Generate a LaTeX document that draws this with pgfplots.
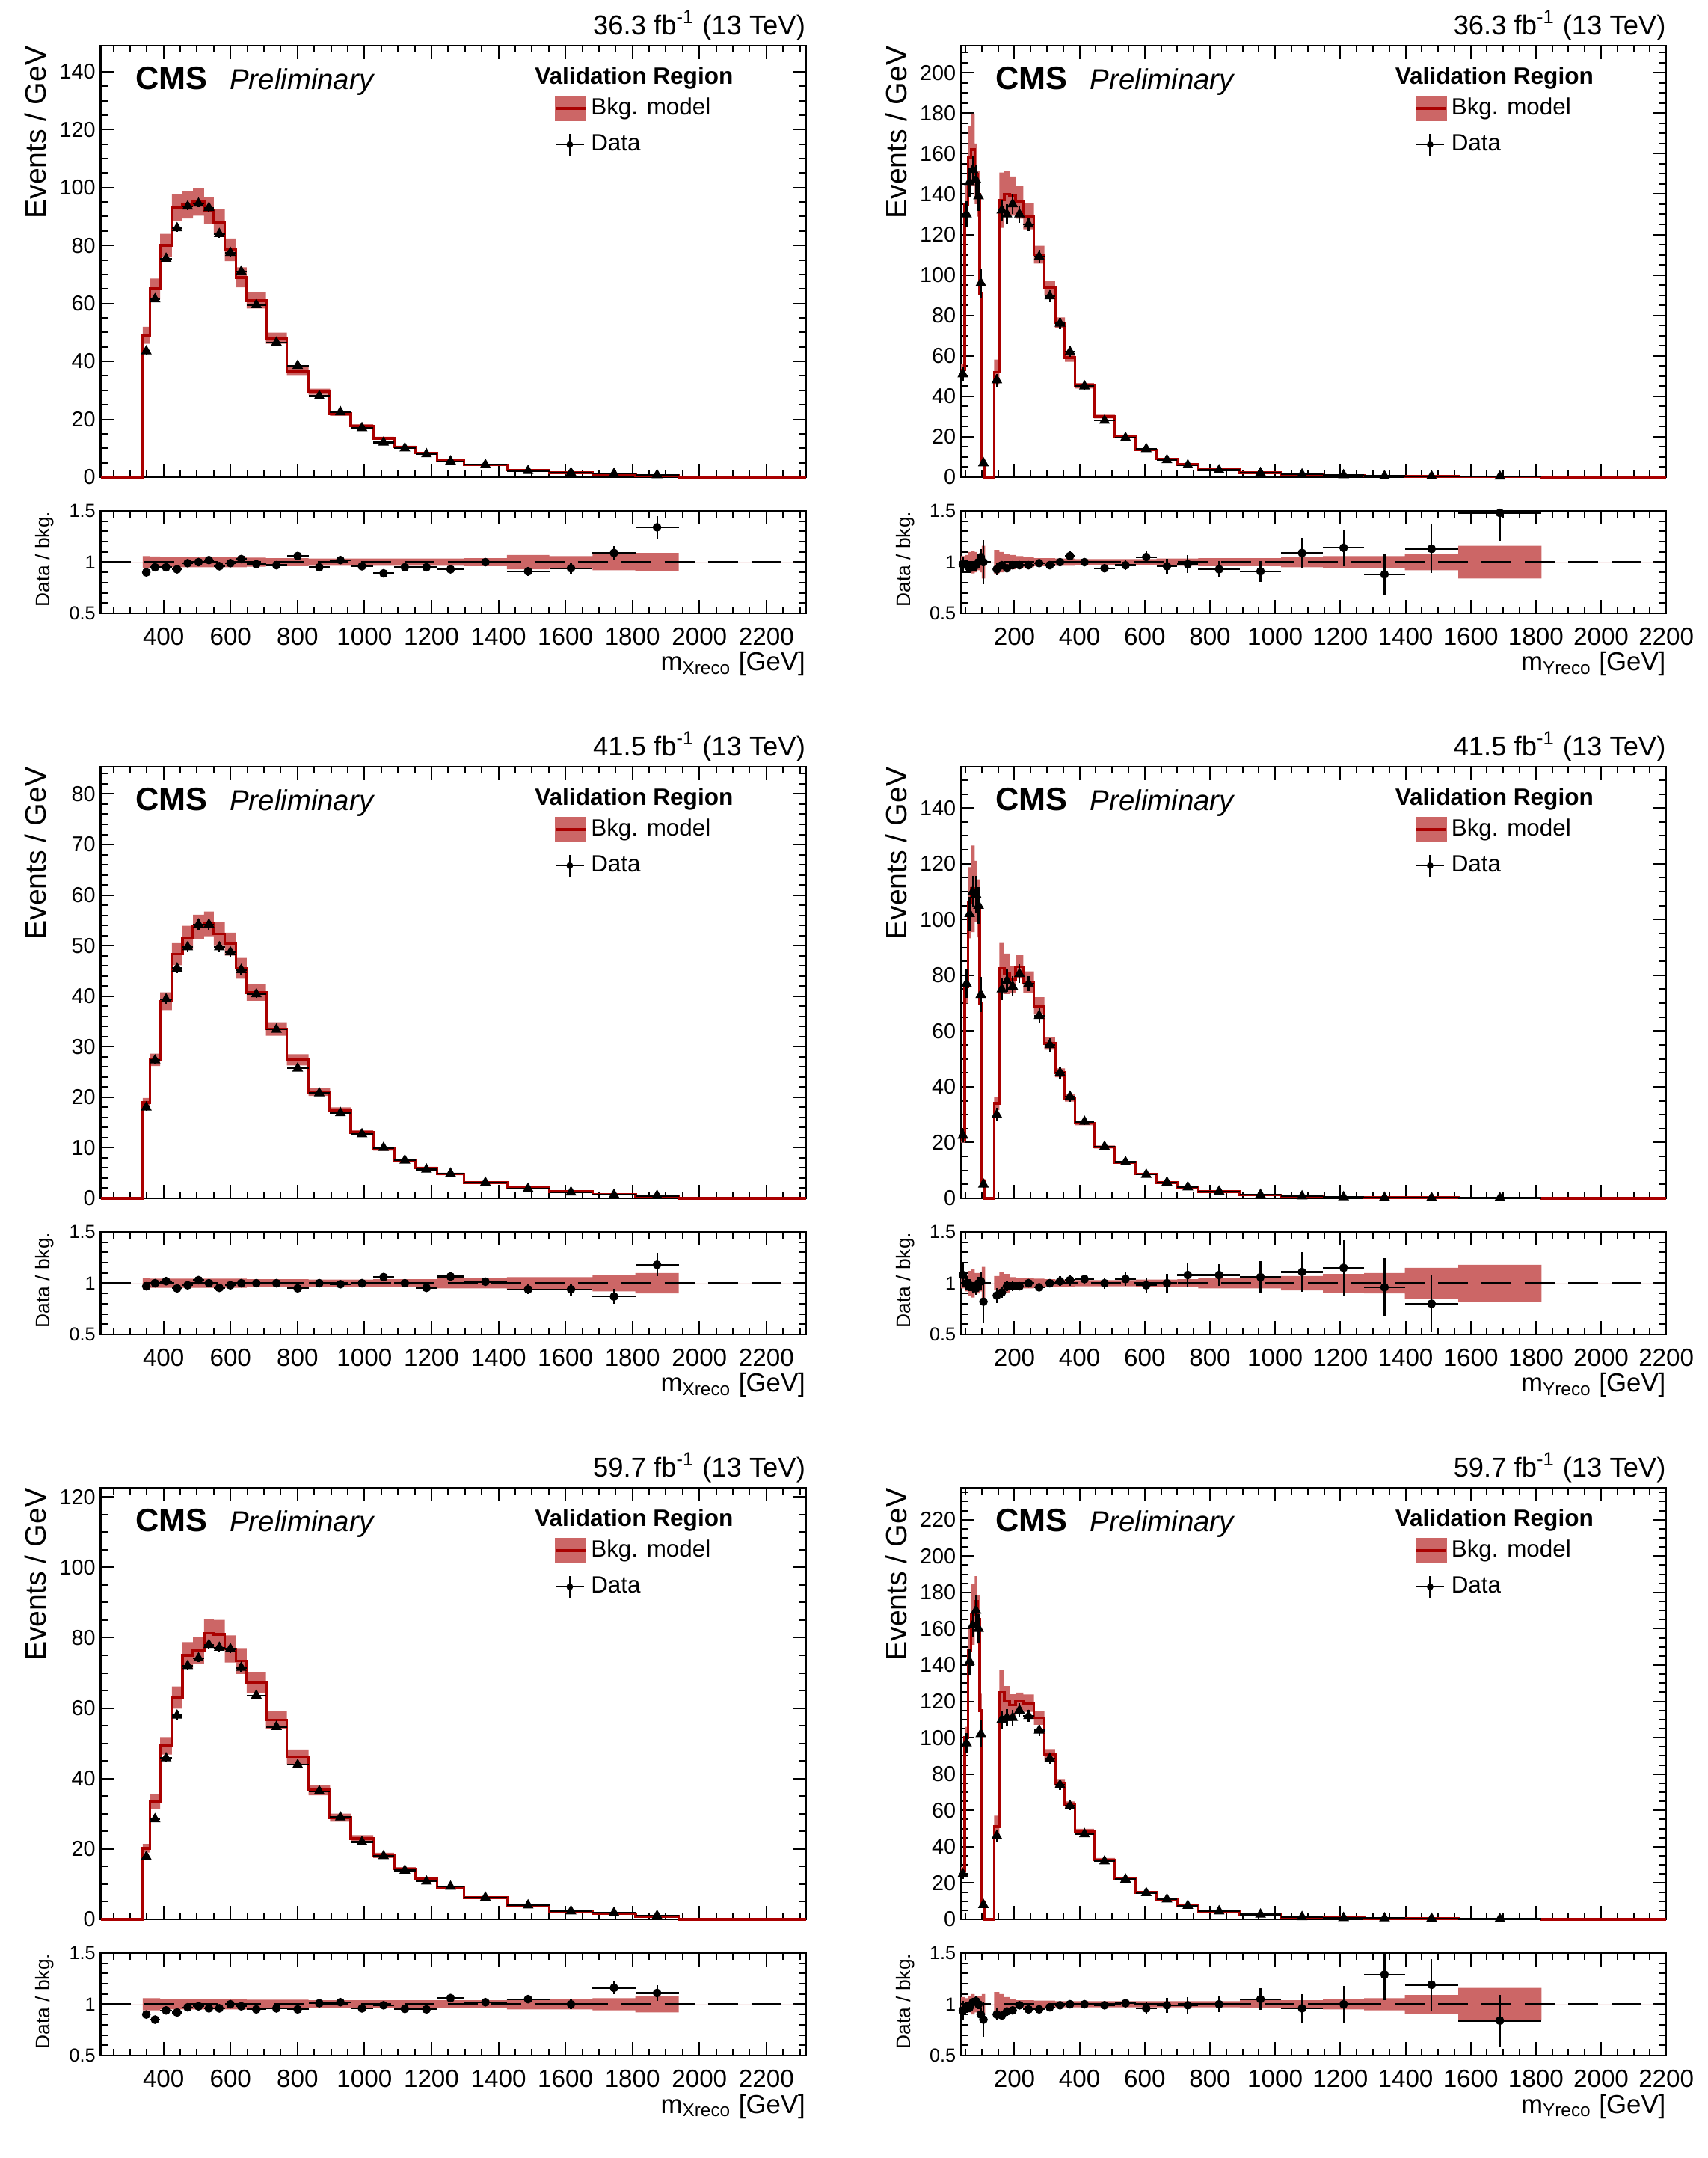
\documentclass[border=0pt]{standalone}
\usepackage{fontspec}
\setmainfont{Liberation Sans}
\usepackage{pgfplots}
\usepackage{pgfplotstable}
\pgfplotsset{compat=1.18}
\usepgfplotslibrary{fillbetween}

\definecolor{bandcol}{RGB}{204,102,102}
\definecolor{linecol}{RGB}{170,0,0}

\newcommand\fTick{\fontsize{7.2pt}{8.5pt}\selectfont}
\newcommand\fXTick{\fontsize{8.3pt}{10pt}\selectfont}
\newcommand\fRTick{\fontsize{6.3pt}{7.5pt}\selectfont}
\newcommand\fYlab{\fontsize{9.8pt}{12pt}\selectfont}
\newcommand\fRlab{\fontsize{6.6pt}{7.5pt}\selectfont}
\newcommand\fXlab{\fontsize{8.7pt}{10pt}\selectfont}
\newcommand\fTitle{\fontsize{9.1pt}{11pt}\selectfont}
\newcommand\fCMS{\fontsize{10.8pt}{13pt}\selectfont\bfseries}
\newcommand\fPrel{\fontsize{9.6pt}{11pt}\selectfont\itshape}
\newcommand\fVR{\fontsize{7.9pt}{9pt}\selectfont\bfseries}
\newcommand\fLeg{\fontsize{7.85pt}{9pt}\selectfont}

\pgfplotsset{
  /pgf/number format/assume math mode=true,
  /pgf/number format/1000 sep={},
  common/.style={anchor=south west, width=235.8pt, scale only axis,
    axis line style={line width=0.55pt, black},
    tick style={line width=0.5pt, black},
    major tick length=4.5pt, minor tick length=2.3pt,
    xtick distance=200, minor x tick num=3,
    yticklabel style={inner xsep=1.5pt}},
  mainax/.style={common, height=144.25pt, ymin=0, clip=false,
    xticklabels={}, yticklabel style={font=\fTick}},
  ratioax/.style={common, height=34.25pt, ymin=0.5, ymax=1.5,
    ytick={0.5,1,1.5}, minor y tick num=4, clip mode=individual,
    xticklabel style={font=\fXTick, yshift=-1.2pt},
    yticklabel style={font=\fRTick}},
  histline/.style={linecol, line width=0.9pt},
  datapts/.style={only marks, black, mark options={black, fill=black, line width=0.3pt},
    /pgfplots/error bars/x dir=both, /pgfplots/error bars/x explicit,
    /pgfplots/error bars/y dir=both, /pgfplots/error bars/y explicit,
    /pgfplots/error bars/error mark=none,
    /pgfplots/error bars/error bar style={line width=0.55pt, black}},
}

% columns: lo hi bkg relunc data ratio
\pgfplotstableread{
lo hi b r d q
212 338 0 0 nan nan
338 359 49 0.06 43.5 0.90
359 390 65 0.055 61.5 0.95
390 425 80 0.05 75.5 0.95
425 456 93 0.05 86 0.93
456 488 94 0.05 93.5 0.99
488 521 95 0.05 94.5 1.00
521 550 92 0.05 93 1.02
550 583 88 0.05 84 0.96
583 616 78.5 0.05 77.5 0.99
616 648 69 0.05 71 1.03
648 706 61 0.045 59.5 0.98
706 768 48 0.04 46.5 0.97
768 833 36.5 0.04 38.5 1.06
833 897 29.5 0.035 28 0.95
897 959 22 0.035 22.5 1.02
959 1026 17.7 0.035 17 0.96
1026 1088 13.5 0.035 12 0.89
1088 1153 10.5 0.035 10 0.95
1153 1217 8.4 0.035 8 0.95
1217 1297 6 0.035 5.5 0.93
1297 1425 4.3 0.04 4.3 1.00
1425 1552 2.4 0.07 2.2 0.91
1552 1681 1.6 0.06 1.5 0.94
1681 1809 1.1 0.08 1.2 1.09
1809 1938 0.55 0.09 0.74 1.34
1938 2318 0 0 nan nan
2318 2319 0 0 nan nan
}\tXa

\pgfplotstableread{
lo hi b r d q
212 338 0 0 nan nan
338 359 18.9 0.05 18 0.97
359 390 27.4 0.045 27.3 1.00
390 425 39 0.045 39.4 1.02
425 456 48.3 0.045 45.5 0.95
456 488 51.6 0.045 49.7 0.98
488 521 53.7 0.045 54.2 1.03
521 550 54.3 0.045 54.2 1.00
550 583 52.3 0.045 49.7 0.955
583 616 50.3 0.045 48.7 0.98
616 648 45.5 0.045 45.2 1.00
648 706 40.7 0.04 40.4 1.00
706 768 33.5 0.04 33.4 1.00
768 833 27.4 0.04 25.7 0.95
833 897 21 0.035 20.8 1.00
897 959 17.4 0.035 16.9 0.99
959 1026 13 0.035 12.7 1.00
1026 1088 9.8 0.04 10 1.06
1088 1153 7.4 0.04 7.5 1.00
1153 1217 6 0.04 5.7 0.955
1217 1297 4.8 0.05 4.9 1.065
1297 1425 3.1 0.05 3.1 1.015
1425 1552 2.1 0.06 1.9 0.94
1552 1681 1.3 0.06 1.2 0.94
1681 1809 0.8 0.08 0.7 0.87
1809 1938 0.45 0.10 0.53 1.18
1938 2318 0 0 nan nan
2318 2319 0 0 nan nan
}\tXb

\pgfplotstableread{
lo hi b r d q
212 338 0 0 nan nan
338 359 20.2 0.06 17.8 0.90
359 390 33.5 0.06 28.5 0.85
390 425 49.3 0.05 45.8 0.94
425 456 63 0.05 57.9 0.92
456 488 75 0.05 72 0.97
488 521 76.3 0.05 74.2 0.98
521 550 81.3 0.05 78 0.96
550 583 81 0.05 77.2 0.96
583 616 76.8 0.05 76.8 1.00
616 648 73.4 0.05 71.5 0.98
648 706 67.3 0.045 63.6 0.95
706 768 56.6 0.045 54.7 0.96
768 833 46.2 0.045 43.9 0.95
833 897 36.7 0.04 36.4 1.01
897 959 28.9 0.04 29 1.02
959 1026 23 0.04 22 0.96
1026 1088 18.2 0.04 18 0.99
1088 1153 14.3 0.04 13.9 0.955
1153 1217 11.6 0.04 10.8 0.95
1217 1297 8.9 0.04 9.3 1.06
1297 1425 6.1 0.04 6.2 1.02
1425 1552 3.8 0.05 4.0 1.05
1552 1681 2.3 0.05 2.3 1.00
1681 1809 1.6 0.06 1.85 1.16
1809 1938 0.9 0.08 1.0 1.11
1938 2318 0 0 nan nan
2318 2319 0 0 nan nan
}\tXc

\pgfplotstableread{
lo hi b r d q
36 48 53 0.06 51 0.98
48 58 135 0.07 130 0.97
58 67 158 0.10 146 0.94
67 78 162 0.11 152 0.95
78 86 150 0.10 147 0.97
86 94 140 0.08 139 1.00
94 100 91 0.10 96 1.05
100 110 7 0.16 7 1.00
110 138 0 0 nan nan
138 154 52 0.12 48 0.93
154 169 137 0.10 132 0.97
169 185 140 0.08 130 0.94
185 204 139 0.07 135 0.97
204 227 136 0.06 130 0.97
227 260 129 0.05 125 0.97
260 292 110 0.04 109 0.99
292 325 93.5 0.04 89.5 0.97
325 355 76.3 0.035 76 1.00
355 386 59.2 0.035 62 1.06
386 444 45.2 0.03 45 1.00
444 509 30 0.03 28 0.94
509 573 20.3 0.03 19.5 0.97
573 636 13.5 0.03 14 1.05
636 700 9 0.035 8.5 0.96
700 764 6.2 0.035 6 0.98
764 892 3.8 0.04 3.5 0.93
892 1018 2.3 0.04 2.1 0.91
1018 1147 1.3 0.05 1.4 1.09
1147 1273 0.9 0.06 1.0 1.14
1273 1398 0.6 0.06 0.53 0.88
1398 1562 0.4 0.08 0.45 1.13
1562 1817 0.25 0.16 0.37 1.48
1817 2200 0 0 nan nan
2200 2201 0 0 nan nan
}\tYa

\pgfplotstableread{
lo hi b r d q
36 48 21 0.05 22.5 1.08
48 58 76 0.08 77 1.00
58 67 106 0.12 102 0.98
67 78 111 0.14 110 0.96
78 86 110 0.10 109 0.95
86 94 104 0.10 105 1.00
94 100 70 0.08 73 1.02
100 110 6 0.16 5 0.82
110 138 0 0 nan nan
138 154 34 0.07 30 0.88
154 169 82.5 0.11 75 0.91
169 185 80.5 0.09 78 0.97
185 204 78.5 0.06 76 0.97
204 227 83 0.05 80.5 0.97
227 260 77.5 0.05 77 1.00
260 292 69 0.045 65.5 0.96
292 325 55.5 0.04 55 1.00
325 355 45 0.035 45 1.02
355 386 36 0.035 36.5 1.03
386 444 27 0.03 27.5 1.04
444 509 18.4 0.03 18.5 1.00
509 573 12.9 0.03 13 1.04
573 636 8.7 0.035 8.5 0.98
636 700 5.7 0.035 5.7 1.00
700 764 3.9 0.04 4 1.08
764 892 2.4 0.05 2.5 1.08
892 1018 1.2 0.05 1.3 1.06
1018 1147 0.7 0.07 0.75 1.11
1147 1273 0.4 0.09 0.45 1.15
1273 1398 0.3 0.10 0.28 0.96
1398 1562 0.2 0.15 0.16 0.80
1562 1817 0.15 0.18 0.15 nan
1817 2200 0 0 nan nan
2200 2201 0 0 nan nan
}\tYb

\pgfplotstableread{
lo hi b r d q
36 48 27 0.07 25 0.94
48 58 100 0.06 97 0.97
58 67 148 0.08 142 0.97
67 78 168 0.10 162 1.02
78 86 175 0.08 170 1.03
86 94 165 0.08 160 1.00
94 100 115 0.08 102 0.90
100 110 9.5 0.10 8 0.85
110 138 0 0 nan nan
138 154 51 0.12 46 0.90
154 169 125 0.10 110 0.89
169 185 120 0.07 111 0.93
185 204 118 0.05 111 0.94
204 227 120 0.04 115 0.99
227 260 119 0.04 112 0.95
260 292 111 0.035 104 0.95
292 325 90.6 0.035 88.5 0.97
325 355 75 0.03 74 0.99
355 386 63 0.03 62.5 1.00
386 444 48.4 0.03 47 1.00
444 509 32.8 0.03 32 0.99
509 573 22.5 0.03 22 1.01
573 636 14.9 0.03 14.5 0.96
636 700 10.6 0.03 11 0.99
700 764 7.6 0.03 7.5 0.99
764 892 4.5 0.03 4.5 1.00
892 1018 2.5 0.04 2.7 1.05
1018 1147 1.3 0.04 1.3 0.96
1147 1273 0.8 0.05 0.8 1.00
1273 1398 0.5 0.06 0.6 1.29
1398 1562 0.35 0.09 0.4 1.19
1562 1817 0.2 0.16 0.2 0.84
1817 2200 0 0 nan nan
2200 2201 0 0 nan nan
}\tYc

% #1 x0, #2 main bottom, #3 ratio bottom, #4 table, #5 xmin, #6 xmax, #7 y options, #8 lumi, #9 variable
\newcommand{\panel}[9]{%
\begin{axis}[mainax, at={(#1,#2)}, xmin=#5, xmax=#6, #7,
  legend style={at={(rel axis cs:0,1)}, anchor=north west, xshift=151.5pt, yshift=-16pt,
    draw=none, fill=none, inner sep=0pt, font=\fLeg, row sep=2.5pt,
    nodes={inner sep=1.25pt}},
  legend cell align=left]
  \addplot[name path=U, const plot, draw=none, forget plot] table[x=lo, y expr=\thisrow{b}*(1+\thisrow{r})] {#4};
  \addplot[name path=L, const plot, draw=none, forget plot] table[x=lo, y expr=\thisrow{b}*(1-\thisrow{r})] {#4};
  \addplot[fill=bandcol, draw=none, forget plot] fill between[of=U and L];
  \addplot[const plot, histline, forget plot] table[x=lo, y=b] {#4};
  \addplot[datapts, mark=triangle*, mark size=1.8pt, forget plot] table[x expr=(\thisrow{lo}+\thisrow{hi})/2, y=d,
     x error expr=(\thisrow{hi}-\thisrow{lo})/2,
     y error expr=\errfac*sqrt(\thisrow{d}/(\thisrow{hi}-\thisrow{lo}))] {#4};
  \addlegendimage{legend image code/.code={\fill[bandcol] (0pt,-4pt) rectangle (10.1pt,4pt);
     \draw[linecol, line width=0.9pt] (0pt,0pt) -- (10.1pt,0pt);}}
  \addlegendentry{Bkg. model}
  \addlegendimage{legend image code/.code={\draw[black, line width=0.55pt] (0pt,0pt) -- (9.4pt,0pt) (4.7pt,-3.6pt) -- (4.7pt,3.6pt);
     \fill[black] (4.7pt,0pt) circle (0.9pt);}}
  \addlegendentry{Data}
  \node[inner sep=0pt, anchor=base east, font=\fTitle, yshift=3.5pt] at (rel axis cs:1,1) {#8 fb\textsuperscript{-1} (13 TeV)};
  \node[inner sep=0pt, anchor=base west, font=\fCMS, xshift=11.5pt, yshift=-14.75pt] at (rel axis cs:0,1) {CMS};
  \node[inner sep=0pt, anchor=base west, font=\fPrel, xshift=43pt, yshift=-14.75pt] at (rel axis cs:0,1) {Preliminary};
  \node[inner sep=0pt, anchor=base west, font=\fVR, xshift=145pt, yshift=-13pt] at (rel axis cs:0,1) {Validation Region};
  \node[inner sep=0pt, xshift=-21.7pt, rotate=90, anchor=east, font=\fYlab] at (rel axis cs:0,1) {Events / GeV};
\end{axis}
\begin{axis}[ratioax, at={(#1,#3)}, xmin=#5, xmax=#6]
  \addplot[name path=U, const plot, draw=none, forget plot] table[x=lo, y expr=1+\thisrow{r}] {#4};
  \addplot[name path=L, const plot, draw=none, forget plot] table[x=lo, y expr=1-\thisrow{r}] {#4};
  \addplot[fill=bandcol, draw=none, forget plot] fill between[of=U and L];
  \addplot[black, line width=0.6pt, dash pattern=on 10pt off 4.5pt, forget plot] coordinates {(#5,1) (#6,1)};
  \addplot[datapts, mark=*, mark size=1.3pt, forget plot] table[x expr=(\thisrow{lo}+\thisrow{hi})/2, y=q,
     x error expr=(\thisrow{hi}-\thisrow{lo})/2,
     y error expr=\errfac*sqrt(\thisrow{d}/(\thisrow{hi}-\thisrow{lo}))/(\thisrow{b}+0.0001)] {#4};
  \node[inner sep=0pt, xshift=-18.6pt, rotate=90, anchor=east, font=\fRlab] at (rel axis cs:0,1) {Data / bkg.};
  \node[inner sep=0pt, anchor=base east, font=\fXlab, yshift=-19.25pt] at (rel axis cs:1,0) {m\textsubscript{#9reco} [GeV]};
\end{axis}}

\begin{document}
\begin{tikzpicture}
\path (0,0) rectangle (571pt,721.25pt);
\def\errfac{0.8}
\panel{33.625pt}{561.75pt}{516.25pt}{\tXa}{212}{2318}{ymax=149, ytick distance=20, minor y tick num=3}{36.3}{X}
\panel{33.625pt}{320.75pt}{275.25pt}{\tXb}{212}{2318}{ymax=85.4, ytick distance=10, minor y tick num=4}{41.5}{X}
\panel{33.625pt}{79.75pt}{34.25pt}{\tXc}{212}{2318}{ymax=122.6, ytick distance=20, minor y tick num=3}{59.7}{X}
\def\errfac{1.8}
\panel{321.25pt}{561.75pt}{516.25pt}{\tYa}{36}{2200}{ymax=213.4, ytick distance=20, minor y tick num=3}{36.3}{Y}
\panel{321.25pt}{320.75pt}{275.25pt}{\tYb}{36}{2200}{ymax=154.8, ytick distance=20, minor y tick num=3}{41.5}{Y}
\panel{321.25pt}{79.75pt}{34.25pt}{\tYc}{36}{2200}{ymax=237.6, ytick distance=20, minor y tick num=3}{59.7}{Y}
\pgfresetboundingbox
\path[use as bounding box] (0,0) rectangle (571pt,721.25pt);
\end{tikzpicture}
\end{document}
